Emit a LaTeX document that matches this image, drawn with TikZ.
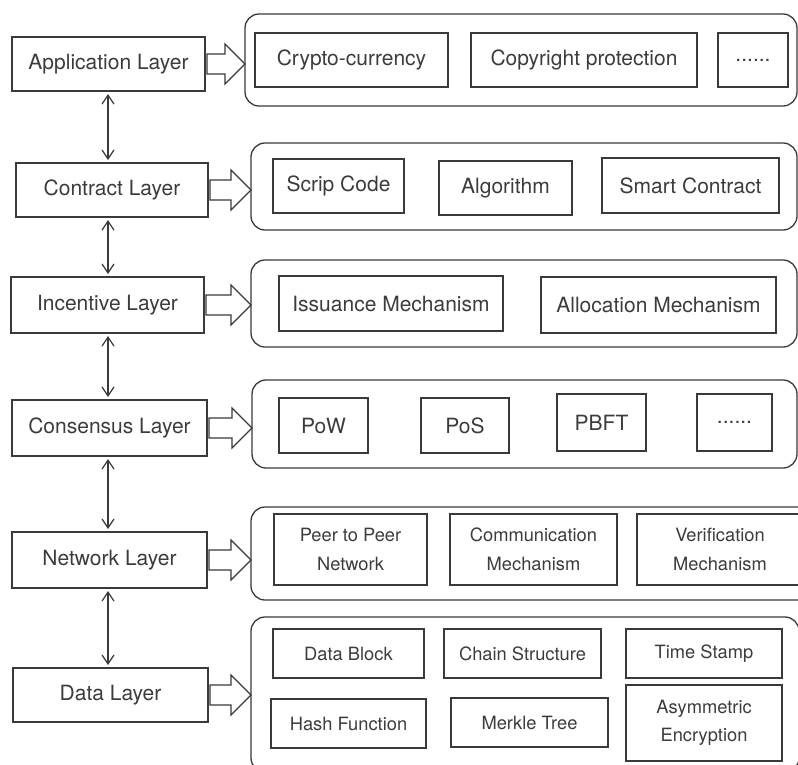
\documentclass[tikz,border=0pt]{standalone}
\usepackage{fontspec}
\setmainfont{TeX Gyre Heros}
\usetikzlibrary{calc,arrows.meta}
\definecolor{ln}{HTML}{3A3A3A}
\definecolor{tx}{HTML}{3C3C3C}
\tikzset{
 box/.style={draw=ln, line width=1.2pt, inner sep=0pt, outer sep=0pt, text=tx, font=\fontsize{21}{25}\selectfont, align=center},
 smallbox/.style={box, font=\fontsize{18.3}{28.5}\selectfont},
 group/.style={draw=ln, line width=1.3pt, rounded corners=14pt, inner sep=0pt, outer sep=0pt},
 barrow/.style={draw=ln, line width=1.2pt, fill=white, line join=miter},
 varrow/.style={draw=ln, line width=1.2pt, >={Straight Barb[length=9pt,width=12pt]}, <->, shorten <=3pt, shorten >=3pt},
}
\newcommand{\bx}[7]{\node[#1, minimum width={#5-#3}, minimum height={#6-#4}] (#2) at ({(#3+#5)/2},{(#4+#6)/2}) {#7};}
\newcommand{\barr}[2]{\draw[barrow] ($(#1.east)+(2,-10)$) -- ($(#2.west|-#1.east)+(-20,-10)$) -- ++(0,-10) -- (#2.west|-#1.east) -- ($(#2.west|-#1.east)+(-20,20)$) -- ++(0,-10) -- ($(#1.east)+(2,10)$) -- cycle;}
\begin{document}
\begin{tikzpicture}[x=1pt,y=-1pt]
\useasboundingbox (0,0) rectangle (798,764);
\clip (0,0) rectangle (798,764);
\fill[white] (0,0) rectangle (798,764);
% left column
\bx{box}{L1}{12}{37}{205}{91}{Application Layer}
\bx{box}{L2}{16}{163}{208}{217}{Contract Layer}
\bx{box}{L3}{11}{277}{204}{333}{Incentive Layer}
\bx{box}{L4}{12}{400}{207}{456}{Consensus Layer}
\bx{box}{L5}{12}{532}{207}{588}{Network Layer}
\bx{box}{L6}{13}{668}{208}{722}{Data Layer}
% groups
\bx{group}{G1}{245}{14}{797}{106}{}
\bx{group}{G2}{251}{143}{797}{230}{}
\bx{group}{G3}{251}{260}{797}{347}{}
\bx{group}{G4}{252}{380}{797}{468}{}
\bx{group}{G5}{251}{507}{815}{600}{}
\bx{group}{G6}{251}{617}{799}{772}{}
% row 1
\bx{box}{A1}{255}{33}{448}{87}{Crypto-currency}
\bx{box}{A2}{471}{33}{697}{87}{Copyright protection}
\bx{box}{A3}{718}{33}{788}{87}{......}
% row 2
\bx{box}{B1}{273}{159}{404}{213}{Scrip Code}
\bx{box}{B2}{439}{161}{572}{215}{Algorithm}
\bx{box}{B3}{602}{158}{779}{213}{Smart Contract}
% row 3
\bx{box}{C1}{279}{276}{503}{331}{Issuance Mechanism}
\bx{box}{C2}{541}{277}{776}{333}{Allocation Mechanism}
% row 4
\bx{box}{D1}{279}{398}{368}{453}{PoW}
\bx{box}{D2}{421}{398}{509}{453}{PoS}
\bx{box}{D3}{557}{394}{646}{451}{PBFT}
\bx{box}{D4}{697}{394}{772}{451}{......}
% row 5
\bx{smallbox}{E1}{274}{514}{427}{585}{Peer to Peer\\Network}
\bx{smallbox}{E2}{450}{514}{617}{585}{Communication\\Mechanism}
\bx{smallbox}{E3}{637}{514}{803}{585}{Verification\\Mechanism}
% row 6
\bx{smallbox}{F1}{273}{629}{424}{678}{Data Block}
\bx{smallbox}{F2}{444}{629}{601}{678}{Chain Structure}
\bx{smallbox}{F3}{626}{629}{782}{678}{Time Stamp}
\bx{smallbox}{F4}{271}{699}{426}{748}{Hash Function}
\bx{smallbox}{F5}{451}{698}{608}{747}{Merkle Tree}
\bx{smallbox}{F6}{626}{685}{782}{761}{Asymmetric\\Encryption}
% block arrows
\barr{L1}{G1}
\barr{L2}{G2}
\barr{L3}{G3}
\barr{L4}{G4}
\barr{L5}{G5}
\barr{L6}{G6}
% vertical arrows
\coordinate (ax) at (108,0);
\draw[varrow] (ax|-L1.south) -- (ax|-L2.north);
\draw[varrow] (ax|-L2.south) -- (ax|-L3.north);
\draw[varrow] (ax|-L3.south) -- (ax|-L4.north);
\draw[varrow] (ax|-L4.south) -- (ax|-L5.north);
\draw[varrow] (ax|-L5.south) -- (ax|-L6.north);
\end{tikzpicture}
\end{document}
